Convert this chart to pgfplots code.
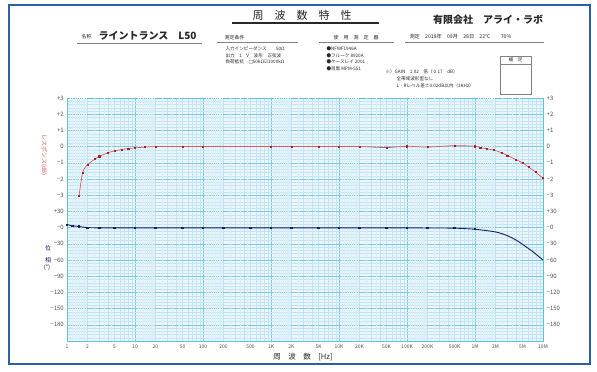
\documentclass[border=0pt]{standalone}
\usepackage{pgfplots}
\usepackage{pgfplotstable}
\pgfplotsset{compat=1.18}
\usepackage{fontspec}
\setmainfont{Noto Sans CJK JP}
\newfontfamily\djfont{DejaVu Sans}
\definecolor{bg}{RGB}{234,246,252}
\definecolor{gsub}{RGB}{216,238,248}
\definecolor{gmin}{RGB}{196,228,242}
\definecolor{gmaj}{RGB}{128,202,225}
\definecolor{frm}{RGB}{95,192,216}
\definecolor{resp}{RGB}{212,95,95}
\definecolor{respm}{RGB}{175,30,40}
\definecolor{phase}{RGB}{25,30,95}
\definecolor{outer}{RGB}{45,95,165}
\definecolor{txt}{RGB}{80,80,80}
\definecolor{hd}{RGB}{40,40,40}

\def\addto#1#2{\ifx#1\empty\xdef#1{#2}\else\xdef#1{#1,#2}\fi}
\let\minlist\empty
\let\sublist\empty
\foreach \e in {0,...,6}{\foreach \m in {2,3,4,5,6,7,8,9}{\addto\minlist{\m e\e}}}
\foreach \e in {0,...,6}{\foreach \m in {1.1,1.2,1.3,1.4,1.5,1.6,1.7,1.8,1.9,2.5,3.5,4.5}{\addto\sublist{\m e\e}}}
\edef\tmp{\noexpand\pgfplotsset{myticks/.style={minor xtick={\minlist}, extra x ticks={\sublist}}}}
\tmp

\pgfplotstableread{
f db
1.5 -3.05
1.7 -1.6
2 -1.12
2.6 -0.76
3 -0.6
4 -0.38
5 -0.26
6.4 -0.18
8 -0.12
10 -0.08
14 -0.03
20 0
50 0
100 0
1000 0
2000 0
5000 0
10000 0
20000 0
50000 -0.06
100000 0.02
200000 -0.03
500000 0.06
1000000 0.02
1200000 -0.06
1500000 -0.14
1900000 -0.22
2500000 -0.39
3000000 -0.55
4000000 -0.8
5000000 -1.0
6200000 -1.27
7800000 -1.58
10000000 -1.95
}\resp

\pgfplotstableread{
f deg
1 5.5
1.2 3.5
1.5 2
2 0
3 -0.5
5 -0.5
10 -0.5
20 -0.5
50 -0.5
100 -0.5
200 -0.5
500 -0.5
1000 -0.5
2000 -0.5
5000 -0.5
10000 -0.5
20000 -0.5
50000 -0.5
100000 -0.5
200000 -0.7
500000 -1
1000000 -3
}\phA

\pgfplotstableread{
f deg
1000000 -3
2000000 -8
3000000 -15
4000000 -23
5000000 -31
6000000 -38
7000000 -44
8000000 -50
10000000 -60
}\phB

\begin{document}
\begin{tikzpicture}[x=1pt,y=1pt]
\useasboundingbox (0,0) rectangle (597,372);
\fill[white] (0,0) rectangle (597,372);
\draw[outer, line width=1.6pt] (9,8) rectangle (590,367);

\begin{axis}[
  at={(67pt,31pt)}, anchor=south west, scale only axis,
  width=476pt, height=243pt,
  xmode=log, log basis x=10, xmin=1, xmax=1e7, ymin=0, ymax=15,
  axis background/.style={fill=bg},
  axis line style={frm, line width=0.9pt},
  xtick={1,10,100,1000,10000,100000,1000000,10000000}, xticklabels={},
  myticks, extra x tick labels={},
  extra x tick style={grid=major, major grid style={gsub, line width=0.2pt}, major tick length=0pt},
  xmajorgrids, xminorgrids, ymajorgrids, yminorgrids,
  major grid style={gmaj, line width=0.5pt},
  minor grid style={gmin, line width=0.25pt},
  ytick={0,...,15}, minor y tick num=4,
  yticklabels={{},−180,−150,−120,−90,−60,−30,−0,+30,−3,−2,−1,0,+1,+2,+3},
  yticklabel style={font=\fontsize{6}{7}\selectfont, text=txt, anchor=east, inner sep=0pt, xshift=-3pt},
  major tick length=0pt, minor tick length=0pt,
  clip=true,
]
\addplot[resp, line width=0.7pt, smooth, tension=0.4, mark=square*, mark size=0.6pt, mark options={fill=respm, draw=respm}]
  table[x=f, y expr=\thisrow{db}+12]{\resp};
\addplot[phase, line width=0.9pt, smooth, tension=0.4, mark=square*, mark size=0.6pt, mark options={fill=phase, draw=phase}]
  table[x=f, y expr=7+\thisrow{deg}/30]{\phA};
\addplot[phase, line width=0.9pt, smooth, tension=0.5, no marks]
  table[x=f, y expr=7+\thisrow{deg}/30]{\phB};
\end{axis}

\begin{axis}[
  at={(67pt,31pt)}, anchor=south west, scale only axis,
  width=476pt, height=243pt,
  xmode=log, log basis x=10, xmin=1, xmax=1e7, ymin=0, ymax=15,
  axis line style={draw=none},
  xtick={1,2,5,10,20,50,100,200,500,1000,2000,5000,10000,20000,50000,100000,200000,500000,1000000,2000000,5000000,10000000},
  xticklabels={1,2,5,10,20,50,100,200,500,1K,2K,5K,10K,20K,50K,100K,200K,500K,1M,2M,5M,10M},
  xticklabel style={font=\fontsize{5}{6}\selectfont, text=txt, anchor=north, inner sep=0pt, yshift=-3.5pt},
  ytick={1,...,15},
  yticklabel pos=right,
  yticklabels={−180,−150,−120,−90,−60,−30,−0,+30,−3,−2,−1,0,+1,+2,+3},
  yticklabel style={font=\fontsize{6}{7}\selectfont, text=txt, anchor=west, inner sep=0pt, xshift=3.5pt},
  major tick length=0pt, minor tick length=0pt,
]
\end{axis}

% header
\node[hd, font=\fontsize{11}{12}\selectfont] at (302,357) {周　波　数　特　性};
\draw[hd, line width=1.1pt] (232,349) -- (379,349);
\node[hd, font=\fontsize{10}{12}\selectfont\bfseries] at (488,352) {有限会社　アライ・ラボ};

\node[hd, font=\fontsize{5}{6}\selectfont, anchor=west] at (78,335) {名称};
\node[hd, font=\fontsize{10}{12}\selectfont\bfseries, anchor=west] at (95,336) {ライントランス　L50};
\draw[gray, line width=0.9pt] (77,329) -- (202,329);

\node[hd, font=\fontsize{5}{6}\selectfont, anchor=west] at (221,334.5) {測定条件};
\draw[gray, line width=0.9pt] (217,330) -- (298,330);
\node[hd, font=\fontsize{4.6}{5.5}\selectfont, anchor=west] at (222,323) {入力インピーダンス　　50Ω};
\node[hd, font=\fontsize{4.6}{5.5}\selectfont, anchor=west] at (222,316.5) {出力　1　V　波形　正弦波};
\node[hd, font=\fontsize{4.6}{5.5}\selectfont, anchor=west] at (222,310) {負荷抵抗　{\djfont □}50kΩ{\djfont ☑}1000kΩ};

\node[hd, font=\fontsize{5}{6}\selectfont] at (356,334.5) {使　用　測　定　器};
\draw[gray, line width=0.9pt] (319,330) -- (394,330);
\node[hd, font=\fontsize{4.6}{5.5}\selectfont, anchor=west] at (323,323) {●NFWF1946A};
\node[hd, font=\fontsize{4.6}{5.5}\selectfont, anchor=west] at (323,316.5) {●フルーク 8920A};
\node[hd, font=\fontsize{4.6}{5.5}\selectfont, anchor=west] at (323,310) {●ケースレイ 2001};
\node[hd, font=\fontsize{4.6}{5.5}\selectfont, anchor=west] at (323,303.5) {●目黒 MPM-551};

\node[hd, font=\fontsize{5.2}{6}\selectfont, anchor=west] at (406,335) {測定　2018年　09月　28日　22℃　　70\%};
\draw[gray, line width=0.9pt] (405,330) -- (544,330);

\node[hd, font=\fontsize{4.6}{5.5}\selectfont, anchor=west] at (382,300) {※）GAIN　1.02　倍（ 0.17　dB）};
\node[hd, font=\fontsize{4.6}{5.5}\selectfont, anchor=west] at (393,293) {全帯域波形歪なし};
\node[hd, font=\fontsize{4.6}{5.5}\selectfont, anchor=west] at (393,286) {L・Rレベル差±0.02dB以内（1KHz）};

\draw[gray, line width=0.6pt] (500,278) rectangle (531,316);
\draw[gray, line width=0.5pt] (500,308) -- (531,308);
\node[hd, font=\fontsize{4.6}{5.5}\selectfont] at (515.5,312) {補　足};

% axis titles
\node[resp, font=\fontsize{6}{7}\selectfont, rotate=-90] at (44,217) {レスポンス(dB)};
\node[phase, font=\fontsize{6}{7}\selectfont] at (48,124) {位};
\node[phase, font=\fontsize{6}{7}\selectfont] at (48,112) {相};
\node[phase, font=\fontsize{6}{7}\selectfont] at (47,104) {(°)};

\node[hd, font=\fontsize{7.5}{9}\selectfont] at (303,15.5) {周　波　数　[Hz]};
\end{tikzpicture}
\end{document}
